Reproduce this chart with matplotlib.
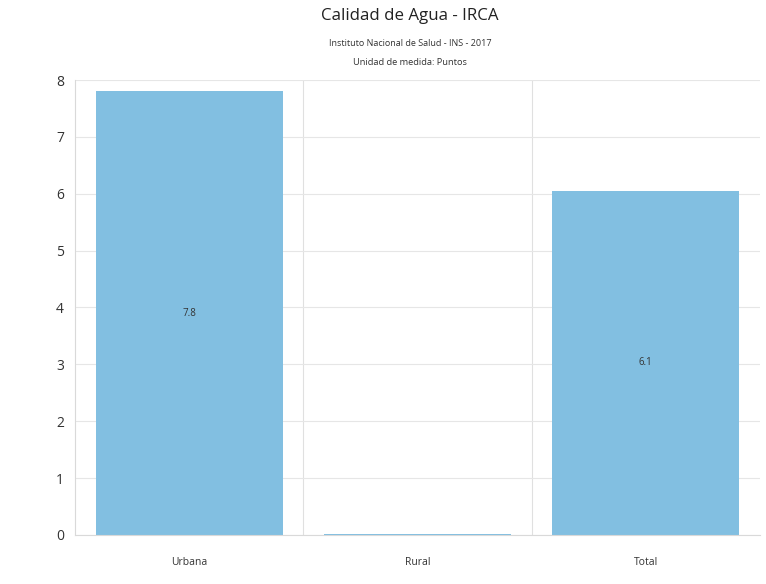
import matplotlib
matplotlib.use("Agg")
import matplotlib.pyplot as plt

categorias = ["Urbana", "Rural", "Total"]
valores = [7.8, 0.02, 6.05]
etiquetas = ["7.8", "", "6.1"]

plt.rcParams['font.family'] = ['Open Sans', 'DejaVu Sans']

fig = plt.figure(figsize=(7.66, 5.84), dpi=100)
ax = fig.add_axes([0.098, 0.084, 0.894, 0.779])

x = range(len(categorias))
barras = ax.bar(x, valores, width=0.82, color="#82bfe1", zorder=2)
for b, txt in zip(barras, etiquetas):
    if txt:
        ax.text(b.get_x() + b.get_width() / 2, b.get_height() / 2, txt,
                ha="center", va="center", fontsize=7, color="#333333")

ax.set_xlim(-0.5, 2.5)
ax.set_ylim(0, 8)
ax.set_xticks(list(x))
ax.set_xticklabels(categorias, fontsize=7.5, color="#333333")
ax.set_yticks(range(0, 9))
ax.tick_params(axis="y", labelsize=10, colors="#333333", length=0, pad=8)
ax.tick_params(axis="x", length=0, pad=16)

ax.grid(axis="y", color="#e6e6e6", lw=0.8, zorder=0)
for xv in [0.5, 1.5]:
    ax.axvline(xv, color="#e0e0e0", lw=0.8, zorder=0)
for s in ["top", "right"]:
    ax.spines[s].set_visible(False)
ax.spines["left"].set_color("#d9d9d9")
ax.spines["bottom"].set_color("#d9d9d9")

fig.text(0.535, 0.972, "Calidad de Agua - IRCA", ha="center", va="center",
         fontsize=12.2, color="#222222")
fig.text(0.535, 0.925, "Instituto Nacional de Salud - INS - 2017", ha="center",
         va="center", fontsize=6.5, color="#333333")
fig.text(0.535, 0.893, "Unidad de medida: Puntos", ha="center", va="center",
         fontsize=6.7, color="#333333")

fig.savefig("out.png", dpi=100)
